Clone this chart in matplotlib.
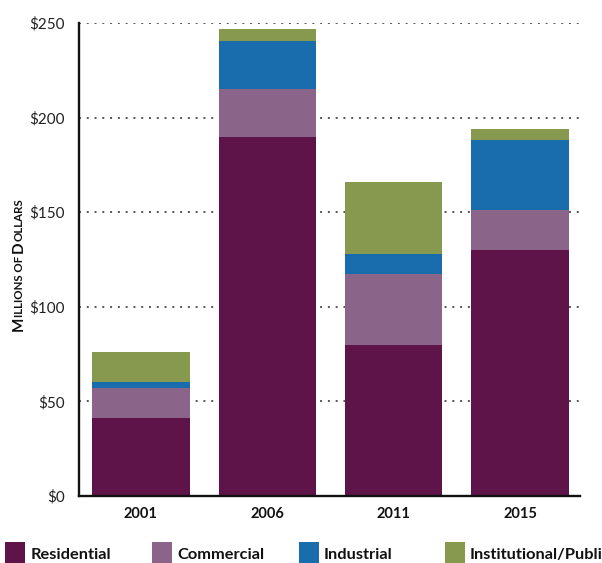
import matplotlib
matplotlib.use("Agg")
import matplotlib.pyplot as plt
from matplotlib.patches import Rectangle
import numpy as np

years = ["2001", "2006", "2011", "2015"]
categories = ["Residential", "Commercial", "Industrial", "Institutional/Public"]
residential = [41, 190, 80, 130]
commercial = [16, 25, 37.5, 21]
industrial = [3.2, 25.5, 10.5, 37]
institutional = [16, 6.3, 38, 6]
series = [residential, commercial, industrial, institutional]
colors = ["#5E1448", "#8A6589", "#1A6DAD", "#87994F"]
yticks = [0, 50, 100, 150, 200, 250]
ytick_labels = ["$0", "$50", "$100", "$150", "$200", "$250"]

W, H = 602, 563
fig = plt.figure(figsize=(W / 100, H / 100), dpi=100)
ax = fig.add_axes([79 / W, 1 - 496 / H, (580 - 79) / W, (496 - 23) / H])

x = np.arange(len(years))
bottom = np.zeros(len(years))
for vals, c, lab in zip(series, colors, categories):
    ax.bar(x, vals, bottom=bottom, width=0.77, color=c, label=lab, zorder=2)
    bottom += np.array(vals)

ax.set_xlim(-0.49, 3.475)
ax.set_ylim(0, 250)
ax.set_yticks(yticks)
ax.set_yticklabels(ytick_labels, fontfamily="Lato", fontsize=11, color="#222222")
ax.set_xticks(x)
ax.set_xticklabels(years, fontfamily="Lato", fontweight="bold", fontsize=10.5, color="#111111")
ax.tick_params(axis="both", length=0)
ax.tick_params(axis="y", pad=10)
ax.tick_params(axis="x", pad=8)
ax.yaxis.grid(True, linestyle=(0, (1, 3)), linewidth=1.4, color="#555555", zorder=0)
ax.set_axisbelow(True)
for s in ["top", "right"]:
    ax.spines[s].set_visible(False)
ax.spines["left"].set_linewidth(1.7)
ax.spines["bottom"].set_linewidth(1.7)
ax.spines["left"].set_color("#111111")
ax.spines["bottom"].set_color("#111111")

# y label in small caps (rotated pieces)
renderer = fig.canvas.get_renderer()
pieces = [("M", 11), ("ILLIONS OF ", 8.3), ("D", 11), ("OLLARS", 8.3)]
texts = []
for s, fs in pieces:
    t = fig.text(23 / W, 0, s, rotation=90, rotation_mode="anchor", ha="left", va="baseline",
                 fontfamily="Lato", fontweight="bold", fontsize=fs, color="#111111")
    texts.append(t)
exts = [t.get_window_extent(renderer).height for t in texts]
total = sum(exts)
cur = (H - 265) - total / 2
for t, h in zip(texts, exts):
    t.set_position((23 / W, cur / H))
    cur += h

# legend
sq_x = [5, 152, 299, 445]
tx_x = [31, 177, 324, 470]
for c, lab, sx, tx in zip(colors, categories, sq_x, tx_x):
    fig.patches.append(Rectangle((sx / W, 0), 20 / W, (563 - 542) / H, transform=fig.transFigure,
                                 facecolor=c, edgecolor="none"))
    fig.text(tx / W, 1 - 559 / H, lab, fontfamily="Lato", fontweight="bold", fontsize=11.8,
             color="#111111", ha="left", va="baseline")

fig.savefig("out.png", dpi=100)
